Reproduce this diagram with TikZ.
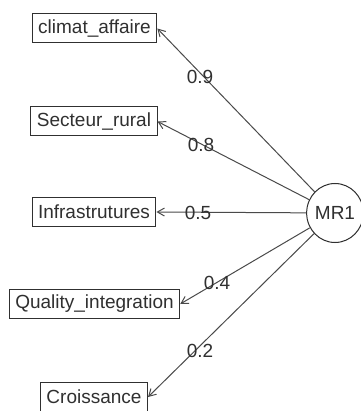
\documentclass[tikz,border=0pt]{standalone}
\usepackage{fontspec}
\setmainfont{Liberation Sans}
\usetikzlibrary{arrows.meta,shapes.geometric}
\definecolor{ink}{HTML}{303030}
\definecolor{wire}{HTML}{4A4A4A}
\begin{document}
\begin{tikzpicture}[x=1pt,y=-1pt,
  varbox/.style={draw=ink,line width=1pt,text=ink,inner xsep=6pt,inner ysep=0pt,
    minimum height=29pt,font=\fontsize{19}{21}\selectfont},
  factor/.style={draw=ink,line width=1pt,text=ink,ellipse,inner sep=0pt,
    minimum width=47pt,minimum height=59pt,font=\fontsize{19}{21}\selectfont},
  load/.style={draw=wire,line width=1pt,-{Straight Barb[length=7pt,width=8pt]}},
  wt/.style={text=ink,inner sep=0pt,font=\fontsize{19}{21}\selectfont}]
\useasboundingbox (0,0) rectangle (360,411);
\fill[white] (0,0) rectangle (360,411);

\node[varbox] (climat) at (94.5,28.5) {climat\_affaire};
\node[varbox] (secteur) at (94,121.5) {Secteur\_rural};
\node[varbox] (infra) at (94,212) {Infrastrutures};
\node[varbox] (quality) at (94.5,304) {Quality\_integration};
\node[varbox] (crois) at (94,397) {Croissance};

\node[factor] (mr) at (335,213) {MR1};

\draw[load] (mr) -- (climat.east);
\draw[load] (mr) -- (secteur.east);
\draw[load] (mr) -- (infra.east);
\draw[load] (mr) -- (quality.east);
\draw[load] (mr) -- (crois.east);

\node[wt] (w1) at (200,77) {0.9};
\node[wt] (w2) at (201,145) {0.8};
\node[wt] (w3) at (198,213) {0.5};
\node[wt] (w4) at (217,283) {0.4};
\node[wt] (w5) at (200,351) {0.2};
\end{tikzpicture}
\end{document}
